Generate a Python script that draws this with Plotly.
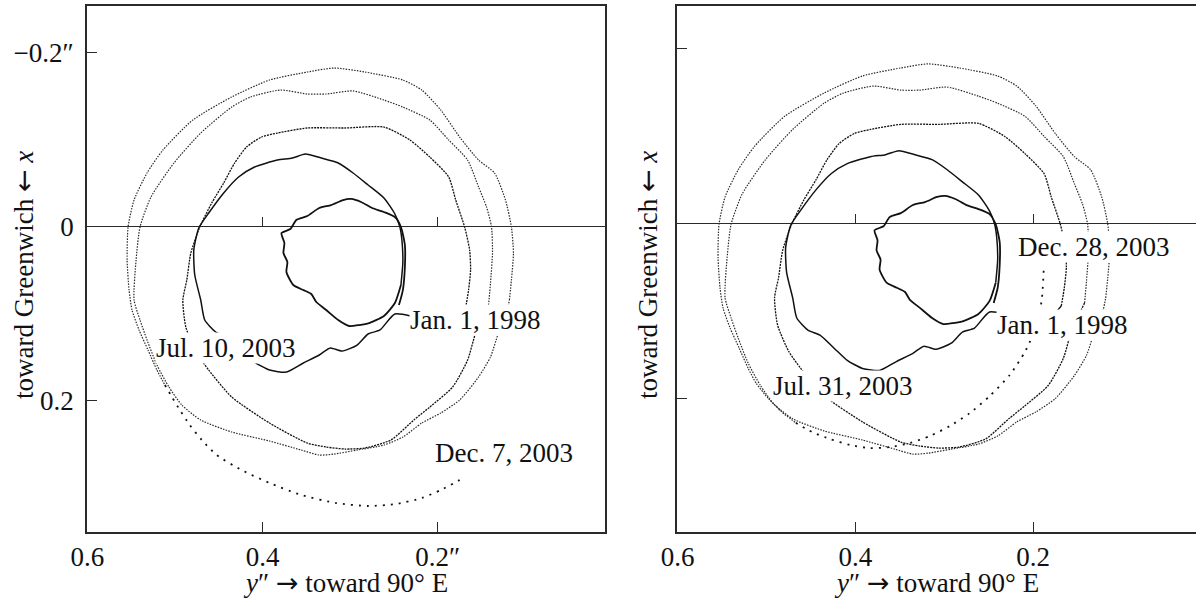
import plotly.graph_objects as go

FONT = "Liberation Serif"
INK = "#111111"
AXIS = "#2a2a2a"

# Observed pole path from Jan. 1, 1998; one list per revolution.
# *_y: y″ (toward 90° E, horizontal), *_x: x″ (toward Greenwich, vertical)
loop1_y = [0.2443, 0.2398, 0.2375, 0.2375, 0.2420, 0.2489, 0.2614, 0.2750, 0.2875, 0.2989, 0.3080,
           0.3216, 0.3352, 0.3489, 0.3614, 0.3682, 0.3784, 0.3750, 0.3761, 0.3716, 0.3727, 0.3648,
           0.3534, 0.3443, 0.3386, 0.3273, 0.3136, 0.3011, 0.2898, 0.2784, 0.2614, 0.2489]
loop1_x = [0.0904, 0.0731, 0.0466, 0.0213, 0.0006, -0.0109, -0.0167, -0.0213, -0.0282, -0.0317, -0.0305,
           -0.0247, -0.0213, -0.0121, -0.0075, 0.0029, 0.0075, 0.0190, 0.0305, 0.0409, 0.0524, 0.0673,
           0.0731, 0.0777, 0.0869, 0.0961, 0.1076, 0.1145, 0.1134, 0.1111, 0.1030, 0.0881]

loop2_y = [0.2420, 0.2398, 0.2409, 0.2432, 0.2489, 0.2614, 0.2795, 0.2966, 0.3136, 0.3330, 0.3511,
           0.3659, 0.3830, 0.4091, 0.4273, 0.4443, 0.4614, 0.4727, 0.4784, 0.4773, 0.4705, 0.4659,
           0.4534, 0.4398, 0.4239, 0.4091, 0.3920, 0.3727, 0.3534, 0.3352, 0.3227, 0.3091, 0.2920,
           0.2795, 0.2659, 0.2489, 0.2193, 0.1795]
loop2_x = [0.0673, 0.0409, 0.0155, 0.0006, -0.0144, -0.0328, -0.0478, -0.0616, -0.0731, -0.0788, -0.0834,
           -0.0788, -0.0765, -0.0685, -0.0570, -0.0386, -0.0155, 0.0017, 0.0270, 0.0558, 0.0846, 0.1076,
           0.1214, 0.1272, 0.1421, 0.1560, 0.1652, 0.1675, 0.1571, 0.1479, 0.1398, 0.1433, 0.1364,
           0.1237, 0.1191, 0.1007, 0.1053, 0.1053]

loop3_y = [0.1682, 0.1648, 0.1625, 0.1636, 0.1693, 0.1795, 0.1875, 0.2091, 0.2318, 0.2614, 0.3057,
           0.3489, 0.3830, 0.4011, 0.4182, 0.4318, 0.4443, 0.4580, 0.4716, 0.4818, 0.4864, 0.4909,
           0.4875, 0.4750, 0.4614, 0.4352, 0.3920, 0.3489, 0.3273, 0.3057, 0.2830, 0.2534, 0.2273,
           0.2091, 0.1830, 0.1659, 0.1568, 0.1489]
loop3_x = [0.0938, 0.0731, 0.0501, 0.0270, 0.0006, -0.0305, -0.0570, -0.0800, -0.0996, -0.1145, -0.1134,
           -0.1134, -0.1076, -0.1030, -0.0915, -0.0731, -0.0501, -0.0270, 0.0006, 0.0305, 0.0616, 0.0846,
           0.1157, 0.1456, 0.1652, 0.1962, 0.2262, 0.2492, 0.2538, 0.2561, 0.2549, 0.2457, 0.2227,
           0.2078, 0.1847, 0.1537, 0.1226, 0.1053]

loop4_y = [0.1420, 0.1398, 0.1375, 0.1386, 0.1443, 0.1534, 0.1659, 0.1875, 0.2091, 0.2398, 0.2614,
           0.2966, 0.3273, 0.3489, 0.3795, 0.4136, 0.4352, 0.4705, 0.5011, 0.5273, 0.5398, 0.5443,
           0.5466, 0.5398, 0.5318, 0.5205, 0.5068, 0.4920, 0.4705, 0.4352, 0.3920, 0.3557, 0.3352,
           0.3182, 0.2920, 0.2614, 0.2398, 0.2182, 0.1966, 0.1750, 0.1534, 0.1398, 0.1307, 0.1227]
loop4_x = [0.0904, 0.0650, 0.0305, 0.0006, -0.0224, -0.0455, -0.0765, -0.0996, -0.1226, -0.1375, -0.1456,
           -0.1560, -0.1525, -0.1525, -0.1571, -0.1491, -0.1375, -0.1076, -0.0731, -0.0340, 0.0006, 0.0386,
           0.0846, 0.1076, 0.1306, 0.1594, 0.1847, 0.2055, 0.2227, 0.2365, 0.2469, 0.2573, 0.2630,
           0.2619, 0.2573, 0.2515, 0.2423, 0.2262, 0.2147, 0.1997, 0.1732, 0.1502, 0.1226, 0.1053]

# last revolution, ending Jul. 10, 2003
loop5_y = [0.1182, 0.1159, 0.1136, 0.1159, 0.1227, 0.1352, 0.1534, 0.1750, 0.1966, 0.2182, 0.2398,
           0.2830, 0.3182, 0.3489, 0.3920, 0.4352, 0.4795, 0.5136, 0.5318, 0.5466, 0.5534, 0.5545,
           0.5523, 0.5489, 0.5409, 0.5307, 0.5205, 0.5114]
loop5_x = [0.0846, 0.0616, 0.0305, 0.0006, -0.0305, -0.0616, -0.0765, -0.1030, -0.1341, -0.1571, -0.1686,
           -0.1778, -0.1824, -0.1778, -0.1686, -0.1491, -0.1226, -0.0881, -0.0616, -0.0305, 0.0006, 0.0386,
           0.0731, 0.0961, 0.1191, 0.1421, 0.1652, 0.1824]

# observations Jul. 10 -> Jul. 31, 2003 (right panel only)
ext_y = [0.4977, 0.4830, 0.4670]
ext_x = [0.1997, 0.2147, 0.2273]

# forecast from Jul. 10 to Dec. 7, 2003
fc_left_y = [0.5114, 0.5034, 0.4943, 0.4830, 0.4693, 0.4523, 0.4239, 0.3920, 0.3557, 0.3159,
             0.2795, 0.2477, 0.2182, 0.1966, 0.1750]
fc_left_x = [0.1824, 0.1962, 0.2112, 0.2285, 0.2457, 0.2630, 0.2803, 0.2952, 0.3090, 0.3183,
             0.3217, 0.3194, 0.3125, 0.3033, 0.2918]

# forecast from Jul. 31 to Dec. 28, 2003
fc_right_y = [0.4670, 0.4487, 0.4284, 0.4060, 0.3835, 0.3610, 0.3385, 0.3161, 0.2936, 0.2711,
              0.2487, 0.2262, 0.2093, 0.1970, 0.1902, 0.1880]
fc_right_x = [0.2273, 0.2378, 0.2458, 0.2526, 0.2561, 0.2550, 0.2503, 0.2424, 0.2309, 0.2161,
              0.1967, 0.1727, 0.1465, 0.1191, 0.0871, 0.0529]

# axes
x_ticks = [0.6, 0.4, 0.2]
x_text_left = ["0.6", "0.4", "0.2″"]
x_text_right = ["0.6", "0.4", "0.2"]
y_ticks = [-0.2, 0.0, 0.2]
y_text_left = ["−0.2″", "0", "0.2"]
mid_ticks = [0.4, 0.2]

left_xrange = [0.6003, 0.0091]
left_yrange = [0.3516, -0.2538]
right_xrange = [0.6007, 0.0166]
right_yrange = [0.3519, -0.2485]

# date labels: (text, y″, x″)
labels_left = [("Jan. 1, 1998", 0.1574, 0.1076),
               ("Jul. 10, 2003", 0.4415, 0.1398),
               ("Dec. 7, 2003", 0.1239, 0.2601)]
labels_right = [("Dec. 28, 2003", 0.1324, 0.0266),
                ("Jan. 1, 1998", 0.1671, 0.1156),
                ("Jul. 31, 2003", 0.4144, 0.1853)]

W, H = 1196, 599
ML, MR, MT, MB = 0, 0, 6, 67
PLOT_H = H - MT - MB

styles = [
    dict(color=INK, width=1.8),
    dict(color=INK, width=1.5),
    dict(color=INK, width=1.3, dash="2px,1px"),
    dict(color="#2a2a2a", width=1.2, dash="1.5px,1.3px"),
    dict(color="#2a2a2a", width=1.2, dash="1.5px,1.3px"),
]
fc_style = dict(color=INK, width=1.8, dash="2px,6px")

loops = [(loop1_y, loop1_x), (loop2_y, loop2_x), (loop3_y, loop3_x),
         (loop4_y, loop4_x), (loop5_y, loop5_x)]

fig = go.Figure()


def draw_panel(xa, ya, extra_y, extra_x, fc_y, fc_x):
    for k, (ly, lx) in enumerate(loops):
        sy, sx = list(ly), list(lx)
        if k + 1 < len(loops):
            sy.append(loops[k + 1][0][0])
            sx.append(loops[k + 1][1][0])
        else:
            sy += extra_y
            sx += extra_x
        fig.add_trace(go.Scatter(x=sy, y=sx, xaxis=xa, yaxis=ya, mode="lines",
                                 line=dict(shape="spline", smoothing=0.6, **styles[k]),
                                 hoverinfo="skip", showlegend=False))
    fig.add_trace(go.Scatter(x=fc_y, y=fc_x, xaxis=xa, yaxis=ya, mode="lines",
                             line=dict(shape="spline", smoothing=0.6, **fc_style),
                             hoverinfo="skip", showlegend=False))


draw_panel("x", "y", [], [], fc_left_y, fc_left_x)
draw_panel("x2", "y2", ext_y, ext_x, fc_right_y, fc_right_x)

# carriers for the tick axes that sit on the x″ = 0 line
fig.add_trace(go.Scatter(x=[None], y=[None], xaxis="x3", yaxis="y", showlegend=False, hoverinfo="skip"))
fig.add_trace(go.Scatter(x=[None], y=[None], xaxis="x4", yaxis="y2", showlegend=False, hoverinfo="skip"))

tickfont = dict(family=FONT, size=27, color=INK)
dom_left = [87 / W, 605 / W]
dom_right = [677 / W, 1.0]

common_x = dict(ticks="inside", ticklen=10, tickwidth=1.3, tickcolor=AXIS, showline=True,
                linecolor=AXIS, linewidth=1.5, showgrid=False, zeroline=False,
                tickfont=tickfont, ticklabelstandoff=0, fixedrange=True, automargin=False)
common_y = dict(ticks="inside", ticklen=10, tickwidth=1.3, tickcolor=AXIS, showline=True,
                linecolor=AXIS, linewidth=1.5, showgrid=False, zeroline=True,
                zerolinecolor=AXIS, zerolinewidth=1.4, tickfont=tickfont,
                ticklabelstandoff=6, domain=[0, 1], fixedrange=True, automargin=False)


def zero_pos(r):
    return r[0] / (r[0] - r[1])


mid_axis = dict(ticks="inside", ticklen=10, tickwidth=1.3, tickcolor=AXIS, showline=False,
                showgrid=False, zeroline=False, showticklabels=False, tickvals=mid_ticks,
                anchor="free", side="bottom", fixedrange=True, automargin=False)

fig.update_layout(
    width=W, height=H,
    margin=dict(l=ML, r=MR, t=MT, b=MB, autoexpand=False),
    paper_bgcolor="white", plot_bgcolor="white",
    showlegend=False, hovermode=False,
    xaxis=dict(domain=dom_left, range=left_xrange, tickvals=x_ticks, ticktext=x_text_left,
               anchor="y", mirror=True, **common_x),
    yaxis=dict(range=left_yrange, tickvals=y_ticks, ticktext=y_text_left, anchor="x",
               mirror=True, **common_y),
    xaxis2=dict(domain=dom_right, range=right_xrange, tickvals=x_ticks, ticktext=x_text_right,
                anchor="y2", mirror=True, **common_x),
    yaxis2=dict(range=right_yrange, tickvals=y_ticks, showticklabels=False, anchor="x2",
                mirror=False, **common_y),
    xaxis3=dict(overlaying="x", domain=dom_left, range=left_xrange,
                position=zero_pos(left_yrange), **mid_axis),
    xaxis4=dict(overlaying="x2", domain=dom_right, range=right_xrange,
                position=zero_pos(right_yrange), **mid_axis),
)

label_font = dict(family=FONT, size=27, color=INK)
annotations = []
for text, yy, xx in labels_left:
    annotations.append(dict(text=text, x=yy, y=xx, xref="x", yref="y", showarrow=False,
                            font=label_font, bgcolor="white", borderpad=0))
for text, yy, xx in labels_right:
    annotations.append(dict(text=text, x=yy, y=xx, xref="x2", yref="y2", showarrow=False,
                            font=label_font, bgcolor="white", borderpad=0))

ARROW = "font-family:'DejaVu Sans'"
x_title = f"<i>y</i>″ <span style=\"{ARROW}\">→</span> toward 90° E"
y_title = f"toward Greenwich <span style=\"{ARROW}\">←</span> <i>x</i>"
title_y = -(582 - 532) / PLOT_H
for cx in (346 / W, 936.5 / W):
    annotations.append(dict(text=x_title, x=cx, y=title_y, xref="paper", yref="paper",
                            showarrow=False, font=label_font, xanchor="center", yanchor="middle"))
for cx in (23 / W, 647 / W):
    annotations.append(dict(text=y_title, x=cx, y=(532 - 275) / PLOT_H, xref="paper",
                            yref="paper", showarrow=False, font=label_font, textangle=-90,
                            xanchor="center", yanchor="middle"))

fig.update_layout(annotations=annotations)
fig.write_html("out.html")
